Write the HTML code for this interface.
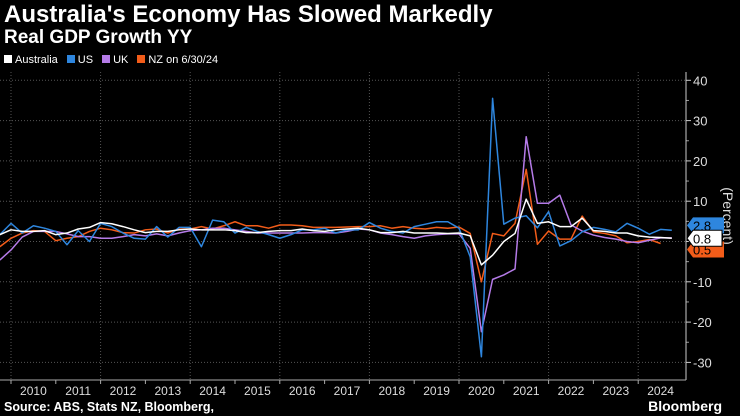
<!DOCTYPE html>
<html><head><meta charset="utf-8"><style>
body{margin:0;background:#000;width:740px;height:416px;overflow:hidden;font-family:"Liberation Sans",sans-serif;color:#fff}
.t{position:absolute;left:4px;top:1px;font-size:24px;font-weight:bold;white-space:nowrap}
.s{position:absolute;left:4px;top:27px;font-size:19px;font-weight:bold;white-space:nowrap}
.lg{position:absolute;left:4px;top:54px;font-size:11px;display:flex;gap:9px}
.lg span i{display:inline-block;width:8px;height:8px;margin-right:3px}
.src{position:absolute;left:4px;top:400px;font-size:12.5px;font-weight:bold;white-space:nowrap}
.bb{position:absolute;right:18px;top:398px;font-size:14px;font-weight:bold}
</style></head><body>
<div class="t">Australia's Economy Has Slowed Markedly</div>
<div class="s">Real GDP Growth YY</div>
<div class="lg">
<span><i style="background:#fff"></i>Australia</span>
<span><i style="background:#2e86de"></i>US</span>
<span><i style="background:#b57be8"></i>UK</span>
<span><i style="background:#f25c19"></i>NZ on 6/30/24</span>
</div>
<svg id="c" width="740" height="416" style="position:absolute;left:0;top:0"></svg>
<div class="src">Source: ABS, Stats NZ, Bloomberg,</div>
<div class="bb">Bloomberg</div>
<script>
const years=[2010,2011,2012,2013,2014,2015,2016,2017,2018,2019,2020,2021,2022,2023,2024];
const yTicks=[40,30,20,10,0,-10,-20,-30];
const australia=[1.7,2.9,2.5,2.5,2.7,1.7,2.1,3.1,3.5,4.7,4.4,3.7,2.9,2.2,2.5,2.5,2.9,3.1,2.9,2.9,2.9,2.7,2.2,2.2,2.5,2.7,2.7,3.1,2.7,2.5,2.9,3.1,3.3,2.9,2.2,2.2,2.5,2.1,2.1,2.1,
2.0,2.1,1.4,-5.8,-3.4,0,2.0,10.5,4.5,4.9,3.7,3.7,5.8,2.7,2.5,2.1,2.1,1.4,1.1,1.0,0.8];
const us=[1.7,4.5,2.1,3.9,3.3,2.5,-0.8,2.7,0,4.5,3.7,2.1,0.8,0.6,3.7,1.1,3.5,3.5,-1.3,5.3,4.9,2.1,3.5,2.5,1.7,0.8,1.7,2.9,2.9,3.3,2.1,2.9,2.9,4.7,3.3,2.5,2.1,3.7,4.3,4.9,
4.9,3.3,-3.8,-28.6,35.5,4.3,5.8,6.4,3.4,7.4,-1.1,0.2,2.4,3.5,3.0,2.4,4.5,3.3,1.8,3.0,2.8];
const uk=[-4.6,-2.1,1.1,2.5,2.5,2.5,1.9,1.2,1.2,0.8,0.8,1.2,1.7,1.4,1.9,1.4,2.1,2.7,2.9,3.3,3.3,2.9,2.5,2.1,2.1,2.1,2.1,2.1,2.2,2.2,2.1,2.5,3.1,2.9,2.1,1.7,1.2,0.8,1.4,1.7,
1.9,1.9,-1.7,-22.4,-9.4,-8.3,-6.8,26.0,9.5,9.5,11.5,4.1,2.6,1.6,1.0,0.6,0,-0.3,0.3,0.9,0.9];
const nz=[-1.3,0.8,2.1,2.7,2.5,0.2,0.8,1.2,2.5,3.3,2.9,2.2,2.1,2.9,3.1,2.1,3.1,3.1,3.7,3.1,3.9,4.9,3.9,3.9,3.3,4.1,4.1,3.9,3.5,3.5,3.5,3.6,3.7,3.7,3.9,3.3,3.7,3.3,3.1,3.5,
3.3,3.6,2.0,-10,2.0,1.4,4.5,17.9,-0.7,2.6,0.6,0.6,6.3,2.4,2.0,1.4,-0.3,0,0.5,-0.5];
const NS='http://www.w3.org/2000/svg',svg=document.getElementById('c');
const X=t=>11+(t-2010)*44.8;
const qx=i=>X(2009.75+i*0.25);
const Y=v=>241.5-v*4.03;
function mk(tag,a,txt){const e=document.createElementNS(NS,tag);for(const k in a)e.setAttribute(k,a[k]);if(txt!=null)e.textContent=txt;svg.appendChild(e);return e;}
for(const v of yTicks){
 const g=mk('line',{x1:0,x2:686,y1:Y(v),y2:Y(v),stroke:'#555','stroke-dasharray':'1,2'});
 
 
 const tk=mk('line',{x1:686,x2:691,y1:Y(v),y2:Y(v),stroke:'#ccc'});
 
 
 const l=mk('text',{x:693,y:Y(v)+5,fill:'#ddd','font-size':13},v);
 
 
}
for(let v=-30;v<=40;v+=5){if(v%10){const m=mk('line',{x1:686,x2:689,y1:Y(v),y2:Y(v),stroke:'#999'});}}
for(let i=0;i<years.length;i+=2){
 const g=mk('line',{x1:X(years[i]),x2:X(years[i]),y1:72,y2:380,stroke:'#555','stroke-dasharray':'1,2'});
 
 
}
const ax=mk('line',{x1:686,x2:686,y1:72,y2:380,stroke:'#ccc'});

const bx=mk('line',{x1:0,x2:686,y1:380,y2:380,stroke:'#aaa'});

for(const yr of years){
 const t=mk('line',{x1:X(yr),x2:X(yr),y1:380,y2:384,stroke:'#aaa'});
 
 const l=mk('text',{x:X(yr+0.5),y:395,fill:'#ddd','font-size':12,'text-anchor':'middle'},yr);
 
}
const yt=mk('text',{x:0,y:0,fill:'#ddd','font-size':14,transform:'translate(723,216) rotate(90)','text-anchor':'middle'},'(Percent)');

function line(d,c,n){const p=mk('polyline',{points:d.map((v,i)=>qx(i)+','+Y(v)).join(' '),fill:'none',stroke:c,'stroke-width':1.5,'stroke-linejoin':'round'});}
line(nz,'#f25c19','nz-line');line(uk,'#b57be8','uk-line');line(us,'#2e86de','us-line');line(australia,'#ffffff','australia-line');
function tag(v,bg,fg,n,txt){const y=Y(v);const g=mk('path',{d:`M687 ${y} l6 -8 h31 v16 h-31 z`,fill:bg});
 const t=mk('text',{x:693,y:y+5,fill:fg,'font-size':13},txt);}
tag(nz[nz.length-1]-1.5,'#f25c19','#000','nz-end-label',Math.abs(nz[nz.length-1]).toFixed(1));
tag(us[us.length-1]+1.2,'#2e86de','#000','us-end-label',us[us.length-1].toFixed(1));
const av=australia[australia.length-1];const ay=Y(av);
const wb=mk('path',{d:`M687 ${ay} l6 -8 h29 v16 h-29 z`,fill:'#fff',stroke:'#000'});
const wt=mk('text',{x:693,y:ay+5,fill:'#000','font-size':13},av.toFixed(1));
</script>
</body></html>
